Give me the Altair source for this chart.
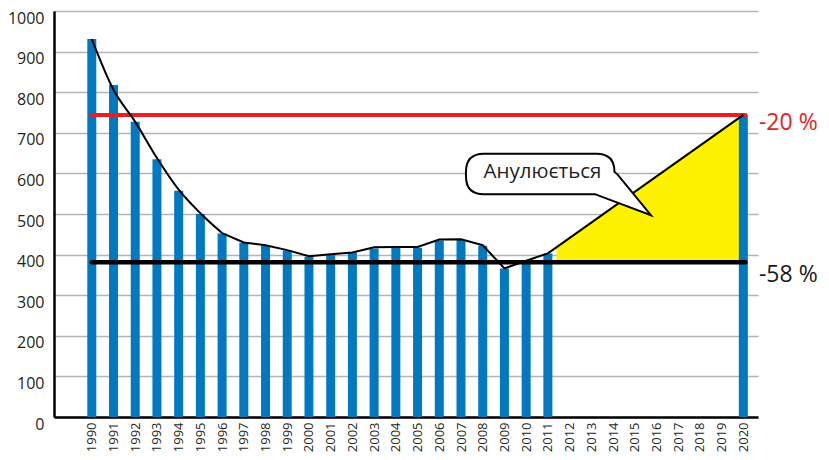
import altair as alt
import pandas as pd

years = list(range(1990, 2012)) + [2020]
values = [931, 818, 727, 635, 557, 500, 452, 429, 422, 410, 395, 401, 405,
          415, 417, 417, 435, 436, 422, 366, 385, 403, 744]

curve_years = [1990, 1991, 1992, 1993, 1994, 1995, 1996]
curve_values = [931, 806, 727, 638, 560, 502, 453]
trend_years = list(range(1996, 2012))
trend_values = [453, 430, 423, 411, 396, 401, 405, 418, 419, 419, 437, 438, 423, 366, 385, 403]

proj_years = [2011, 2020]
proj_values = [403, 744]

fill_years = [2011.4, 2020]
fill_top = [418, 744]
base_level = 381
target_level = 744

tick_years = list(range(1990, 2021))
y_ticks = list(range(0, 1001, 100))

labels = ["-20 %", "-58 %"]
label_values = [723, 350]
label_colors = ["#ed1c24", "#1a1a1a"]

bubble_text = "Анулюється"
bubble_x = 2010.75
bubble_y = 603

XDOM = [1988.49, 2020.445]
xs = alt.Scale(domain=XDOM, nice=False, zero=False)
ys = alt.Scale(domain=[0, 1000], nice=False)

bars_df = pd.DataFrame({"year": years, "value": values})
curve_df = pd.DataFrame({"year": curve_years, "value": curve_values})
trend_df = pd.DataFrame({"year": trend_years, "value": trend_values})
proj_df = pd.DataFrame({"year": proj_years, "value": proj_values})
fill_df = pd.DataFrame({"year": fill_years, "value": fill_top, "value2": [base_level] * 2})
black_df = pd.DataFrame({"year": [1990], "year2": [2020.1], "value": [base_level]})
red_df = pd.DataFrame({"year": [1990], "year2": [2020.1], "value": [target_level]})
lab_df = pd.DataFrame({"year": [2020.72, 2020.72], "value": label_values, "t": labels, "c": label_colors})
bub_df = pd.DataFrame({"year": [bubble_x], "value": [bubble_y], "t": [bubble_text]})

X = alt.X("year:Q", scale=xs, title=None,
          axis=alt.Axis(values=tick_years, format="d", labelAngle=-90, grid=False,
                        ticks=False, labelPadding=5, labelOverlap=False,
                        domainColor="black", domainWidth=2.5, labelFontSize=13,
                        labelColor="#231f20", labelFont="Open Sans", labelBound=False,
                        labelFlush=False))
Y = alt.Y("value:Q", scale=ys, title=None,
          axis=alt.Axis(values=y_ticks, format="d", grid=True, gridColor="#b4b4b4",
                        gridWidth=1.5, ticks=False, labelPadding=10, labelOffset=7,
                        domainColor="black", domainWidth=2.5, labelFontSize=16,
                        labelColor="#231f20", labelFont="Open Sans", labelOverlap=False,
                        labelFlush=False, labelBound=False))

area = alt.Chart(fill_df).mark_area(color="#fff200", opacity=1).encode(x=X, y=Y, y2="value2:Q")

bars = alt.Chart(bars_df).mark_bar(size=9, color="#0079c1").encode(x=X, y=Y)

black_rule = alt.Chart(black_df).mark_rule(
    color="black", strokeWidth=4.5, strokeCap="round").encode(x=X, x2="year2:Q", y=Y)
red_rule = alt.Chart(red_df).mark_rule(
    color="#ed1c24", strokeWidth=4, strokeCap="round").encode(x=X, x2="year2:Q", y=Y)

curve = alt.Chart(curve_df).mark_line(color="black", strokeWidth=2,
                                      interpolate="monotone").encode(x=X, y=Y)
trend = alt.Chart(trend_df).mark_line(color="black", strokeWidth=2).encode(x=X, y=Y)
proj = alt.Chart(proj_df).mark_line(color="black", strokeWidth=2).encode(x=X, y=Y)

bubble_path = ("M -0.731 -0.231 L 0.675 -0.231 Q 0.9 -0.231 0.9 -0.006 L 0.94 0.03 "
               "L 1.356 0.538 L 0.656 0.275 L -0.731 0.275 Q -0.956 0.275 -0.956 0.05 "
               "L -0.956 -0.006 Q -0.956 -0.231 -0.731 -0.231 Z")
bubble = alt.Chart(bub_df).mark_point(
    shape=bubble_path, size=25600, filled=True, fill="white", stroke="black",
    strokeWidth=2, opacity=1, fillOpacity=1, strokeOpacity=1).encode(x=X, y=Y)
bubble_txt = alt.Chart(bub_df).mark_text(
    font="Open Sans", fontSize=20.5, color="#231f20", align="center",
    baseline="middle").encode(x=X, y=Y, text="t:N")

side = alt.Chart(lab_df).mark_text(font="Open Sans", fontSize=23, align="left",
                                   baseline="middle").encode(
    x=X, y=Y, text="t:N", color=alt.Color("c:N", scale=None))

chart = alt.layer(area, bars, black_rule, red_rule, curve, trend, proj, bubble,
                  bubble_txt, side).properties(
    width=704, height=406,
    autosize=alt.AutoSizeParams(type="none"),
    padding={"left": 46, "top": 3, "right": 63, "bottom": 35},
).configure_view(stroke=None)

chart.save("out.html", embed_options={"renderer": "svg", "actions": False})
